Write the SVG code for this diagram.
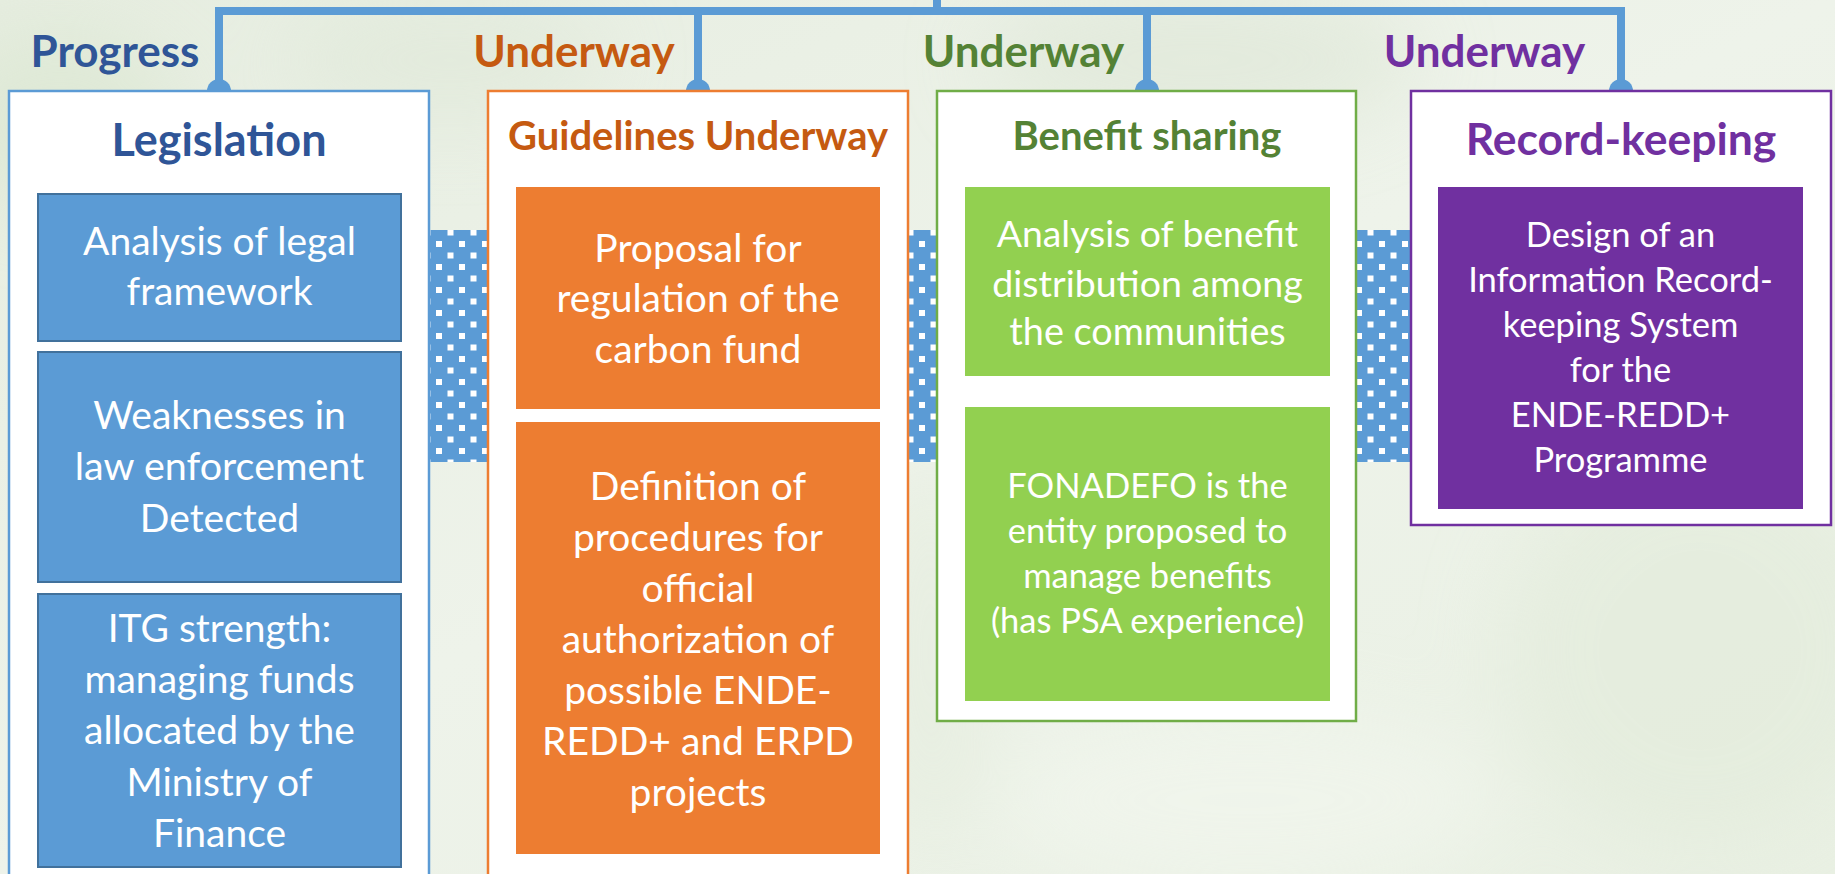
<svg xmlns="http://www.w3.org/2000/svg" width="1835" height="874" viewBox="0 0 1835 874">
<defs>
<style>
.lbl{font-family:Lato,"Liberation Sans",sans-serif;font-weight:700;font-size:44px;text-anchor:middle}
.hdr{font-family:Lato,"Liberation Sans",sans-serif;font-weight:700;text-anchor:middle}
.body{font-family:Lato,"Liberation Sans",sans-serif;font-size:39px;fill:#ffffff;text-anchor:middle}
.small{font-family:Lato,"Liberation Sans",sans-serif;font-size:34.5px;fill:#ffffff;text-anchor:middle}
.conn{stroke:#5B9BD5;stroke-width:8;fill:none}
.dot{fill:#5B9BD5}
.outer{fill:#ffffff;stroke-width:2.5}
</style>
<pattern id="dots" patternUnits="userSpaceOnUse" x="436" y="241" width="23" height="23">
<rect x="0" y="0" width="23" height="23" fill="#5B9BD5"/>
<rect x="0" y="0" width="6" height="6" fill="#ffffff"/>
<rect x="11.5" y="11.5" width="6" height="6" fill="#ffffff"/>
</pattern>
<filter id="blur" x="-50%" y="-50%" width="200%" height="200%"><feGaussianBlur stdDeviation="40"/></filter>
<linearGradient id="bg" x1="0" y1="0" x2="1" y2="1">
<stop offset="0" stop-color="#e6ede0"/>
<stop offset="0.5" stop-color="#eef3ea"/>
<stop offset="1" stop-color="#e9f0e3"/>
</linearGradient>
</defs>
<g id="background">
<rect x="0" y="0" width="1835" height="874" fill="url(#bg)"/>
<g filter="url(#blur)" opacity="0.6">
<ellipse cx="60" cy="120" rx="120" ry="90" fill="#d9e6cf"/>
<ellipse cx="450" cy="60" rx="160" ry="60" fill="#dfe8d8"/>
<ellipse cx="1200" cy="60" rx="220" ry="70" fill="#dde6d5"/>
<ellipse cx="1700" cy="650" rx="200" ry="200" fill="#e2ebda"/>
<ellipse cx="1250" cy="800" rx="250" ry="90" fill="#f3f7ef"/>
<ellipse cx="930" cy="650" rx="60" ry="200" fill="#e4ecdd"/>
</g>
</g>
<g id="bands">
<rect x="420" y="230" width="1000" height="232" fill="url(#dots)"/>
</g>
<g id="connectors">
<path class="conn" d="M219,91 V11 H1621 V91"/>
<path class="conn" d="M937,0 V11"/>
<path class="conn" d="M698,11 V91"/>
<path class="conn" d="M1147,11 V91"/>
<circle class="dot" cx="219" cy="91" r="12"/>
<circle class="dot" cx="698" cy="91" r="12"/>
<circle class="dot" cx="1147" cy="91" r="12"/>
<circle class="dot" cx="1621" cy="91" r="12"/>
</g>
<g id="node-legislation">
<text class="lbl" x="115" y="67" fill="#2F5597">Progress</text>
<rect class="outer" x="9" y="91" width="420" height="810" stroke="#5B9BD5"/>
<text class="hdr" x="219" y="156" font-size="45" fill="#2F5597">Legislation</text>
<g id="node-legal-framework">
<rect x="38" y="194" width="363" height="147" fill="#5B9BD5" stroke="#41719C" stroke-width="2"/>
<text class="body" x="219.5" y="255">Analysis of legal</text>
<text class="body" x="219.5" y="305">framework</text>
</g>
<g id="node-weaknesses">
<rect x="38" y="352" width="363" height="230" fill="#5B9BD5" stroke="#41719C" stroke-width="2"/>
<text class="body" x="219.5" y="429">Weaknesses in</text>
<text class="body" x="219.5" y="480" style="font-size:39.5px">law enforcement</text>
<text class="body" x="219.5" y="532">Detected</text>
</g>
<g id="node-itg">
<rect x="38" y="594" width="363" height="273" fill="#5B9BD5" stroke="#41719C" stroke-width="2"/>
<text class="body" x="219.5" y="642">ITG strength:</text>
<text class="body" x="219.5" y="693">managing funds</text>
<text class="body" x="219.5" y="744">allocated by the</text>
<text class="body" x="219.5" y="796">Ministry of</text>
<text class="body" x="219.5" y="847">Finance</text>
</g>
</g>
<g id="node-guidelines">
<text class="lbl" x="574" y="67" fill="#C55A11">Underway</text>
<rect class="outer" x="488" y="91" width="420" height="810" stroke="#ED7D31"/>
<text class="hdr" x="698" y="150" font-size="40" fill="#C55A11">Guidelines Underway</text>
<g id="node-carbon-fund">
<rect x="516" y="187" width="364" height="222" fill="#ED7D31"/>
<text class="body" x="698" y="262">Proposal for</text>
<text class="body" x="698" y="312">regulation of the</text>
<text class="body" x="698" y="363">carbon fund</text>
</g>
<g id="node-procedures">
<rect x="516" y="422" width="364" height="432" fill="#ED7D31"/>
<text class="body" x="698" y="500">Definition of</text>
<text class="body" x="698" y="551">procedures for</text>
<text class="body" x="698" y="602">official</text>
<text class="body" x="698" y="653">authorization of</text>
<text class="body" x="698" y="704">possible ENDE-</text>
<text class="body" x="698" y="755">REDD+ and ERPD</text>
<text class="body" x="698" y="806">projects</text>
</g>
</g>
<g id="node-benefit">
<text class="lbl" x="1023.5" y="67" fill="#548235">Underway</text>
<rect class="outer" x="937" y="91" width="419" height="630" stroke="#70AD47"/>
<text class="hdr" x="1147" y="150" font-size="40" fill="#548235">Benefit sharing</text>
<g id="node-distribution">
<rect x="965" y="187" width="365" height="189" fill="#92D050"/>
<text class="body" x="1147.5" y="247" style="font-size:37.3px">Analysis of benefit</text>
<text class="body" x="1147.5" y="297" style="font-size:37.5px">distribution among</text>
<text class="body" x="1147.5" y="345" style="font-size:37.8px">the communities</text>
</g>
<g id="node-fonadefo">
<rect x="965" y="407" width="365" height="294" fill="#92D050"/>
<text class="small" x="1147.5" y="498">FONADEFO is the</text>
<text class="small" x="1147.5" y="543">entity proposed to</text>
<text class="small" x="1147.5" y="588">manage benefits</text>
<text class="small" x="1147.5" y="633">(has PSA experience)</text>
</g>
</g>
<g id="node-record">
<text class="lbl" x="1484.5" y="67" fill="#7030A0">Underway</text>
<rect class="outer" x="1411" y="91" width="420" height="434" stroke="#7030A0"/>
<text class="hdr" x="1621" y="155" font-size="44.5" fill="#7030A0">Record-keeping</text>
<g id="node-info-system">
<rect x="1438" y="187" width="365" height="322" fill="#7030A0"/>
<text class="small" x="1620.5" y="247">Design of an</text>
<text class="small" x="1620.5" y="292">Information Record-</text>
<text class="small" x="1620.5" y="337">keeping System</text>
<text class="small" x="1620.5" y="382">for the</text>
<text class="small" x="1620.5" y="427">ENDE-REDD+</text>
<text class="small" x="1620.5" y="472">Programme</text>
</g>
</g>
</svg>
